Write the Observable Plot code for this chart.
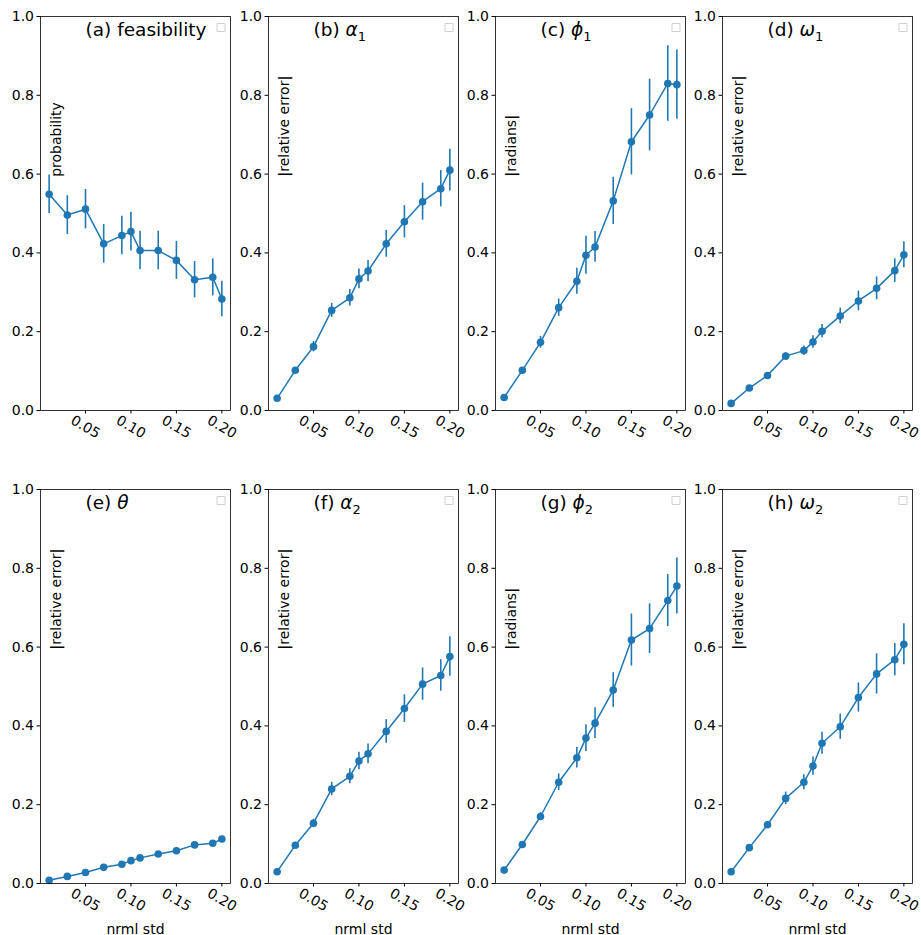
<!DOCTYPE html>
<html><head><meta charset="utf-8">
<script src="https://cdn.jsdelivr.net/npm/d3@7"></script>
<script src="https://cdn.jsdelivr.net/npm/@observablehq/plot@0.6"></script>
<style>
body{margin:0;background:#fff;}
#wrap{position:relative;width:921px;height:935px;overflow:hidden;background:#fff;}
#wrap > svg{position:absolute;}
</style></head><body><div id="wrap"></div>
<script>
// noise level (normalised std)
const xs = [0.01, 0.03, 0.05, 0.07, 0.09, 0.10, 0.11, 0.13, 0.15, 0.17, 0.19, 0.20];
const xTicks = [0.05, 0.10, 0.15, 0.20];
const yTicks = [0, 0.2, 0.4, 0.6, 0.8, 1.0];

const feasibility    = [0.549, 0.496, 0.511, 0.423, 0.444, 0.454, 0.406, 0.406, 0.381, 0.332, 0.338, 0.283];
const feasibilityErr = [0.049, 0.049, 0.050, 0.049, 0.049, 0.049, 0.049, 0.049, 0.048, 0.046, 0.047, 0.045];
const alpha1    = [0.031, 0.102, 0.162, 0.254, 0.286, 0.334, 0.354, 0.423, 0.479, 0.530, 0.563, 0.610];
const alpha1Err = [0.003, 0.006, 0.013, 0.018, 0.021, 0.025, 0.027, 0.034, 0.041, 0.047, 0.046, 0.053];
const phi1    = [0.033, 0.102, 0.173, 0.261, 0.328, 0.394, 0.415, 0.532, 0.682, 0.750, 0.830, 0.827];
const phi1Err = [0.003, 0.006, 0.015, 0.022, 0.033, 0.048, 0.039, 0.060, 0.084, 0.091, 0.096, 0.088];
const omega1    = [0.018, 0.057, 0.089, 0.138, 0.152, 0.174, 0.201, 0.240, 0.278, 0.310, 0.355, 0.395];
const omega1Err = [0.002, 0.004, 0.006, 0.008, 0.012, 0.016, 0.017, 0.020, 0.025, 0.029, 0.030, 0.033];
const theta    = [0.008, 0.018, 0.028, 0.041, 0.049, 0.058, 0.065, 0.075, 0.083, 0.098, 0.102, 0.113];
const thetaErr = [0.001, 0.002, 0.003, 0.003, 0.004, 0.004, 0.005, 0.005, 0.006, 0.006, 0.007, 0.007];
const alpha2    = [0.030, 0.097, 0.153, 0.240, 0.272, 0.311, 0.329, 0.386, 0.444, 0.506, 0.528, 0.576];
const alpha2Err = [0.003, 0.006, 0.010, 0.017, 0.019, 0.022, 0.025, 0.030, 0.035, 0.041, 0.040, 0.050];
const phi2    = [0.034, 0.099, 0.170, 0.257, 0.319, 0.369, 0.407, 0.491, 0.618, 0.647, 0.718, 0.755];
const phi2Err = [0.003, 0.006, 0.010, 0.021, 0.026, 0.034, 0.039, 0.044, 0.066, 0.063, 0.066, 0.071];
const omega2    = [0.030, 0.091, 0.149, 0.216, 0.257, 0.298, 0.356, 0.398, 0.472, 0.532, 0.568, 0.607];
const omega2Err = [0.003, 0.005, 0.008, 0.016, 0.019, 0.023, 0.028, 0.032, 0.037, 0.051, 0.041, 0.052];

const titles  = ["(a) feasibility", "(b) α₁", "(c) ϕ₁", "(d) ω₁", "(e) θ", "(f) α₂", "(g) ϕ₂", "(h) ω₂"];
const yLabels = ["probability", "|relative error|", "|radians|", "|relative error|",
                 "|relative error|", "|relative error|", "|radians|", "|relative error|"];
const xLabel = "nrml std";

const series = [feasibility, alpha1, phi1, omega1, theta, alpha2, phi2, omega2];
const errors = [feasibilityErr, alpha1Err, phi1Err, omega1Err, thetaErr, alpha2Err, phi2Err, omega2Err];

const blue = "#1f77b4";
const colLefts = [0, 228, 455, 682];
const rowTops = [0, 473];
const subMap = {"₁": "1", "₂": "2"};

function styleTexts(svg) {
  d3.select(svg).selectAll("text").each(function() {
    const t = this.textContent;
    const m = t.match(/^(\(\w\) )([αϕωθ])([₁₂]?)$/);
    if (m) {
      const s = d3.select(this);
      s.text(null);
      s.append("tspan").text(m[1]);
      s.append("tspan").attr("font-style", "italic").text(m[2]);
      if (m[3]) s.append("tspan").attr("font-size", "13px").attr("dy", "4.5").text(subMap[m[3]]);
      return;
    }
    const b = t.match(/^\|(.*)\|$/);
    if (b) {
      const s = d3.select(this);
      s.text(null);
      s.append("tspan").attr("font-weight", "bold").text("|");
      s.append("tspan").text(b[1]);
      s.append("tspan").attr("font-weight", "bold").text("|");
    }
  });
}

const wrap = document.getElementById("wrap");
for (let k = 0; k < 8; k++) {
  const row = Math.floor(k / 4), col = k % 4;
  const bottom = row === 1;
  const data = xs.map((x, i) => ({x, y: series[k][i], e: errors[k][i]}));
  const svg = Plot.plot({
    width: 238, height: bottom ? 462 : 445,
    marginLeft: 40, marginRight: 8, marginTop: 16, marginBottom: bottom ? 52 : 35,
    style: {fontFamily: "DejaVu Sans", fontSize: "14px", background: "transparent", overflow: "visible", color: "black"},
    x: {domain: [0.0005, 0.2095]},
    y: {domain: [0, 1]},
    marks: [
      Plot.axisY({ticks: yTicks, tickFormat: d3.format(".1f"), tickSize: 3.5, tickPadding: 3, label: null}),
      Plot.axisX({ticks: xTicks, tickFormat: d3.format(".2f"), tickSize: 3.5, tickRotate: 30,
                  textAnchor: "middle", lineAnchor: "middle", tickPadding: 13,
                  label: bottom ? xLabel : null, labelAnchor: "center", labelOffset: 50, labelArrow: "none"}),
      Plot.ruleX(data, {x: "x", y1: d => d.y - d.e, y2: d => d.y + d.e, stroke: blue, strokeWidth: 1.6}),
      Plot.line(data, {x: "x", y: "y", stroke: blue, strokeWidth: 1.5}),
      Plot.dot(data, {x: "x", y: "y", r: 3.8, fill: blue}),
      Plot.text([titles[k]], {x: 0.05, y: 0.95, text: d => d, textAnchor: "start", lineAnchor: "bottom", fontSize: 18.5}),
      Plot.text([yLabels[k]], {x: 0.023, y: 0.593, text: d => d, rotate: -90, textAnchor: "start", lineAnchor: "bottom", fontSize: 14}),
      Plot.dot([0], {frameAnchor: "top-right", dx: -9.5, dy: 11, symbol: "square", r: 4.5, stroke: "#d0d0d0", fill: "white", strokeWidth: 1}),
      Plot.frame({stroke: "black", strokeWidth: 0.8})
    ]
  });
  svg.style.left = colLefts[col] + "px";
  svg.style.top = rowTops[row] + "px";
  styleTexts(svg);
  wrap.appendChild(svg);
}
</script>
</body></html>
